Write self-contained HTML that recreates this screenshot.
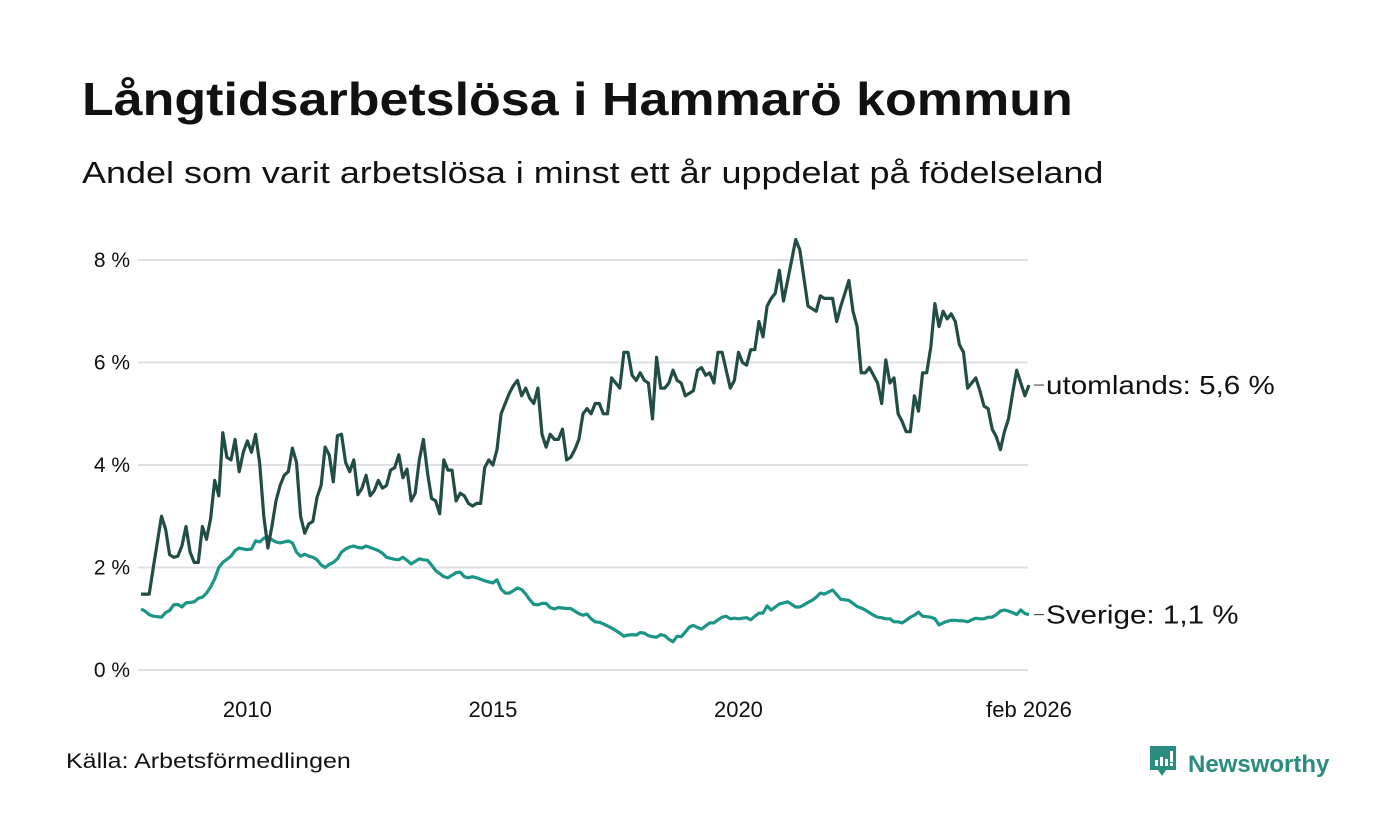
<!DOCTYPE html>
<html><head><meta charset="utf-8"><style>
body{margin:0;background:#fff;font-family:"Liberation Sans","DejaVu Sans",sans-serif;}
#wrap{position:relative;width:1400px;height:840px;overflow:hidden;background:#fff}
h1{position:absolute;left:82px;top:72px;margin:0;font-size:46px;font-weight:bold;color:#111;transform:scaleX(1.13);transform-origin:0 0;white-space:nowrap}
h2{position:absolute;left:82px;top:155px;margin:0;font-size:31px;font-weight:normal;color:#111;transform:scaleX(1.16);transform-origin:0 0;white-space:nowrap}
.src{position:absolute;left:66px;top:750px;font-size:21px;color:#111;transform:scaleX(1.19);transform-origin:0 0;white-space:nowrap}
.logo{position:absolute;left:1148px;top:744px;font-size:24px;font-weight:bold;color:#2a8c7f;white-space:nowrap}
</style></head><body><div id="wrap">
<h1>Långtidsarbetslösa i Hammarö kommun</h1>
<h2>Andel som varit arbetslösa i minst ett år uppdelat på födelseland</h2>
<svg id="chart" width="1400" height="840" style="position:absolute;left:0;top:0"></svg>
<div class="src">Källa: Arbetsförmedlingen</div>
<div class="logo"><svg width="30" height="34" style="vertical-align:-6px;margin-right:10px"><path d="M2 2h26v24h-10l-4 6-4-6H2z" fill="#2a8c7f"/><rect x="7" y="16" width="3" height="6" fill="#fff"/><rect x="12" y="13" width="3" height="9" fill="#fff"/><rect x="17" y="15" width="3" height="7" fill="#fff"/><rect x="22" y="7" width="3" height="11" fill="#fff"/><rect x="22" y="19" width="3" height="3" fill="#fff"/></svg>Newsworthy</div>
</div>
<script>
const yTicks=[0,2,4,6,8];
const xTickLabels=["2010","2015","2020","feb 2026"];
const xTickMonths=[26,86,146,217];
const utomlands=[1.48,1.48,1.48,2.0,2.5,3.0,2.75,2.25,2.2,2.22,2.42,2.8,2.3,2.1,2.1,2.8,2.55,2.95,3.7,3.4,4.63,4.15,4.1,4.5,3.87,4.25,4.47,4.25,4.6,4.03,3.0,2.38,2.8,3.3,3.6,3.8,3.87,4.33,4.05,3.0,2.67,2.85,2.9,3.37,3.6,4.35,4.2,3.67,4.57,4.6,4.05,3.87,4.1,3.42,3.55,3.8,3.4,3.5,3.7,3.55,3.6,3.9,3.95,4.2,3.75,3.92,3.3,3.45,4.1,4.5,3.85,3.35,3.3,3.05,4.1,3.9,3.9,3.3,3.45,3.4,3.25,3.2,3.25,3.25,3.95,4.1,4.0,4.3,5.0,5.2,5.4,5.55,5.65,5.35,5.5,5.3,5.2,5.5,4.6,4.35,4.6,4.5,4.5,4.7,4.1,4.15,4.3,4.5,5.0,5.1,5.0,5.2,5.2,5.0,5.0,5.7,5.6,5.5,6.2,6.2,5.75,5.65,5.8,5.65,5.6,4.9,6.1,5.5,5.5,5.6,5.85,5.65,5.6,5.35,5.4,5.45,5.85,5.9,5.75,5.8,5.6,6.2,6.2,5.85,5.5,5.65,6.2,6.0,5.95,6.25,6.25,6.8,6.5,7.1,7.25,7.35,7.8,7.2,7.6,8.0,8.4,8.2,7.65,7.1,7.05,7.0,7.3,7.25,7.25,7.25,6.8,7.1,7.35,7.6,7.0,6.7,5.8,5.8,5.9,5.75,5.6,5.2,6.05,5.6,5.7,5.0,4.85,4.65,4.65,5.35,5.05,5.8,5.8,6.3,7.15,6.7,7.0,6.85,6.95,6.8,6.35,6.2,5.5,5.6,5.7,5.45,5.15,5.1,4.7,4.55,4.3,4.65,4.9,5.4,5.85,5.6,5.35,5.56];
const sverige=[1.19,1.15,1.08,1.05,1.04,1.03,1.12,1.16,1.27,1.28,1.23,1.31,1.32,1.33,1.4,1.42,1.5,1.62,1.78,2.0,2.1,2.16,2.22,2.33,2.38,2.36,2.35,2.36,2.52,2.5,2.57,2.6,2.54,2.5,2.48,2.5,2.52,2.48,2.3,2.22,2.26,2.22,2.2,2.15,2.05,2.0,2.06,2.1,2.17,2.3,2.36,2.4,2.42,2.39,2.38,2.42,2.39,2.36,2.33,2.28,2.2,2.18,2.16,2.15,2.2,2.14,2.07,2.12,2.17,2.15,2.14,2.05,1.94,1.88,1.82,1.8,1.85,1.9,1.91,1.82,1.8,1.82,1.8,1.77,1.74,1.72,1.7,1.76,1.58,1.5,1.5,1.55,1.6,1.57,1.48,1.37,1.28,1.27,1.3,1.3,1.22,1.19,1.22,1.21,1.2,1.2,1.15,1.1,1.07,1.09,1.0,0.94,0.93,0.9,0.86,0.82,0.77,0.72,0.66,0.68,0.69,0.68,0.73,0.72,0.67,0.65,0.64,0.69,0.67,0.6,0.55,0.66,0.65,0.74,0.84,0.87,0.83,0.8,0.86,0.92,0.92,0.98,1.03,1.05,1.0,1.01,1.0,1.01,1.02,0.98,1.05,1.11,1.11,1.25,1.17,1.23,1.29,1.31,1.33,1.28,1.23,1.23,1.27,1.32,1.36,1.42,1.5,1.48,1.52,1.56,1.47,1.38,1.37,1.36,1.3,1.24,1.21,1.17,1.12,1.07,1.03,1.02,1.0,1.0,0.94,0.94,0.92,0.97,1.03,1.07,1.13,1.05,1.04,1.03,1.0,0.88,0.92,0.95,0.97,0.97,0.96,0.96,0.94,0.98,1.01,1.0,1.0,1.03,1.03,1.08,1.15,1.17,1.15,1.12,1.08,1.17,1.1,1.08];
const seriesNames=["utomlands","Sverige"];

const NS="http://www.w3.org/2000/svg";
const svg=document.getElementById('chart');
const X0=141,X1=1029,Y0=670,YPER=51.25;
const nMonths=utomlands.length;
function x(i){return X0+(X1-X0)*i/(nMonths-1);}
function y(v){return Y0-v*YPER;}
function mk(tag,attrs,text){const e=document.createElementNS(NS,tag);for(const k in attrs)e.setAttribute(k,attrs[k]);if(text!==undefined)e.textContent=text;svg.appendChild(e);return e;}
yTicks.forEach(t=>{
  const g=mk('line',{x1:138,x2:1028,y1:y(t),y2:y(t),stroke:'#e0dfe4','stroke-width':2});
  
  
  const l=mk('text',{x:130,y:y(t)+7,'text-anchor':'end','font-size':21,fill:'#111','font-family':'Liberation Sans, sans-serif'},t+' %');
  
  
});
xTickLabels.forEach((s,k)=>{
  const l=mk('text',{x:x(xTickMonths[k]),y:717,'text-anchor':'middle','font-size':22,fill:'#111','font-family':'Liberation Sans, sans-serif'},s);
  
  
});
function line(data,color,name){
  const d=data.map((v,i)=>(i?'L':'M')+x(i).toFixed(1)+' '+y(v).toFixed(1)).join('');
  const p=mk('path',{d:d,fill:'none',stroke:color,'stroke-width':3.2,'stroke-linejoin':'round'});
  
  
}
line(sverige,'#1b9585','sverige');
line(utomlands,'#214d45','utomlands');
function endLabel(data,name){
  const v=data[data.length-1],yy=y(v);
  const t=mk('line',{x1:1034,x2:1044,y1:yy,y2:yy,stroke:'#333','stroke-width':1});
  
  
  const txt=name+': '+(Math.round(v*10)/10).toFixed(1).replace('.',',')+' %';
  const l=mk('text',{x:1046,y:yy+9,'font-size':26,fill:'#111','font-family':'Liberation Sans, sans-serif',transform:'translate(1046 0) scale(1.14 1) translate(-1046 0)'},txt);
  
  
}
endLabel(utomlands,seriesNames[0]);
endLabel(sverige,seriesNames[1]);
</script>
</body></html>
